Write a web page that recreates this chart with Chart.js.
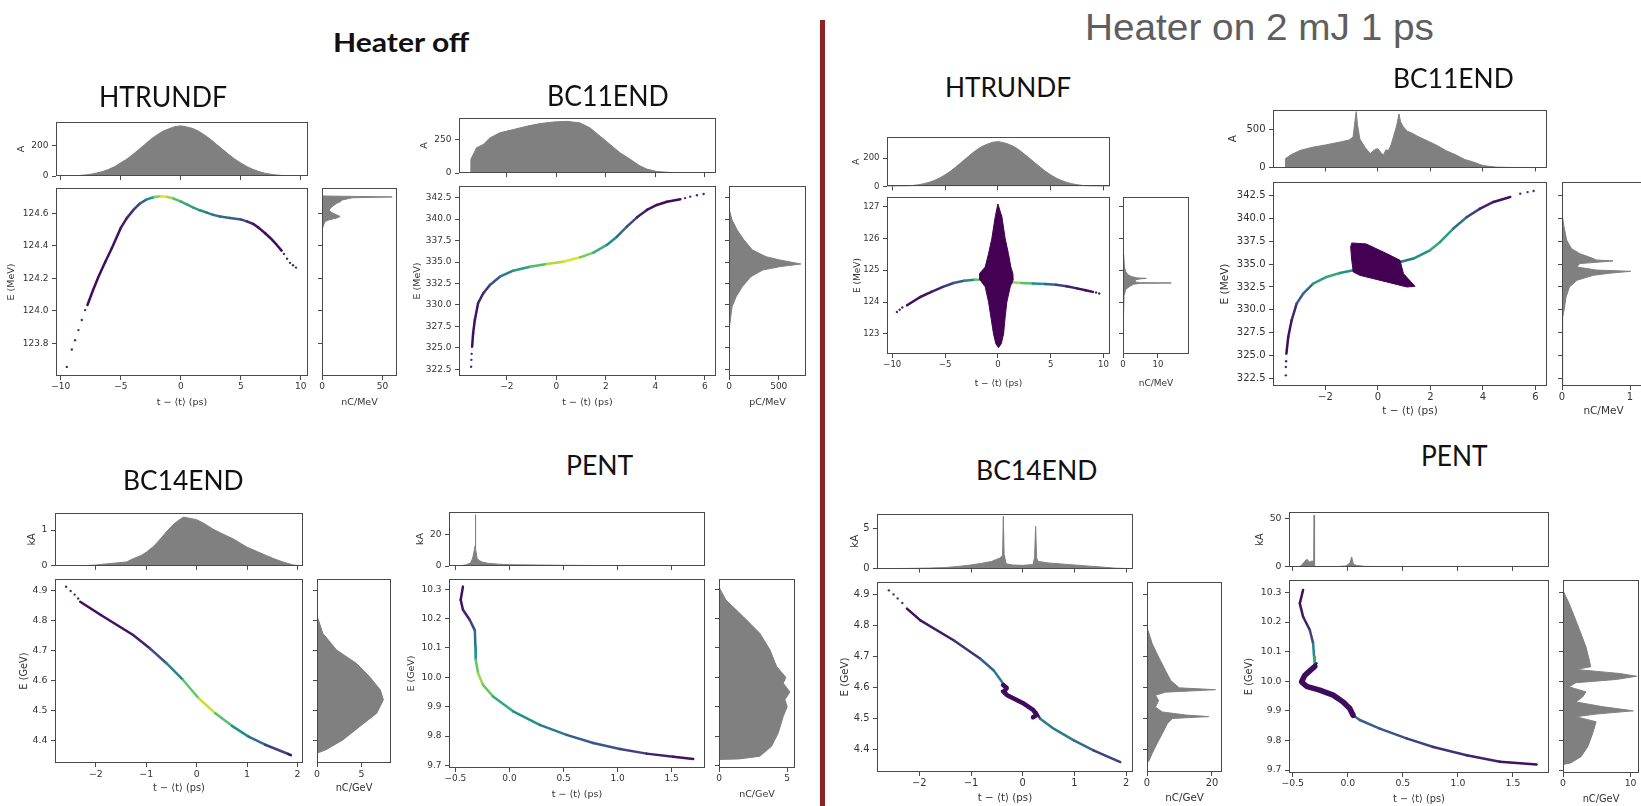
<!DOCTYPE html>
<html><head><meta charset="utf-8"><title>Heater off / Heater on 2 mJ 1 ps</title>
<script src="https://cdn.jsdelivr.net/npm/chart.js@4.4.1/dist/chart.umd.min.js"></script>
<style>
html,body{margin:0;padding:0;background:#fff;width:1641px;height:806px;overflow:hidden;position:relative;}
canvas{position:absolute;}
.lbl{position:absolute;white-space:nowrap;transform-origin:0 0;}
#divider{position:absolute;left:820px;top:20px;width:5px;height:786px;background:#8c2327;}
</style></head><body>
<div id="divider"></div>
<script>
// ================= DATA =================
// ---- tick values ----
const XT_HT = [-10,-5,0,5,10];
const XT_BC11 = [-2,0,2,4,6];
const XT_BC14 = [-2,-1,0,1,2];
const XT_PENT = [-0.5,0,0.5,1,1.5];
const YT_A = [123.8,124.0,124.2,124.4,124.6];
const YT_BC11 = [322.5,325,327.5,330,332.5,335,337.5,340,342.5];
const YT_C = [123,124,125,126,127];
const YT_BC14 = [4.4,4.5,4.6,4.7,4.8,4.9];
const YT_PENT = [9.7,9.8,9.9,10.0,10.1,10.2,10.3];

// ---- A: HTRUNDF, heater off ----
const A_t = [-7.78,-7.3,-6.86,-6.3,-5.75,-5.0,-4.5,-3.95,-3.4,-2.84,-2.2,-1.7,-1.1,-0.6,0,0.5,1.05,1.6,2.16,2.7,3.27,4.1,5.0,5.5,6.05,6.5,7.03,7.5,8.0,8.4];
const A_E = [124.036,124.13,124.21,124.30,124.385,124.51,124.57,124.62,124.66,124.685,124.70,124.705,124.70,124.69,124.672,124.655,124.635,124.618,124.604,124.59,124.58,124.571,124.562,124.55,124.534,124.51,124.477,124.445,124.405,124.37];
const A_dens = [0.03,0.03,0.03,0.04,0.05,0.08,0.12,0.18,0.3,0.5,0.8,0.95,0.85,0.72,0.62,0.58,0.55,0.48,0.42,0.38,0.33,0.3,0.22,0.12,0.06,0.04,0.03,0.03,0.03,0.03];
const A_tailT = [-9.5,-9.08,-8.81,-8.53,-8.25,-7.97,8.6,8.85,9.1,9.35,9.6];
const A_tailE = [123.656,123.763,123.82,123.882,123.944,124.005,124.35,124.32,124.295,124.28,124.266];
const A_topT = [-10.4,-10,-9.5,-9,-8.5,-8,-7.5,-7,-6.5,-6,-5.5,-5,-4.5,-4,-3.5,-3,-2.5,-2,-1.5,-1,-0.5,0,0.5,1,1.5,2,2.5,3,3.5,4,4.5,5,5.5,6,6.5,7,7.5,8,8.5,9,9.5,10,10.6];
const A_topI = [0,0.5,1,2,4,7,12,20,30,44,62,86,110,140,172,205,238,266,290,306,320,325,318,308,290,265,236,204,172,140,110,85,62,44,30,19,12,7,4,2,1,0.5,0];
const A_rE = [123.6,124.48,124.50,124.52,124.54,124.55,124.56,124.57,124.58,124.59,124.60,124.61,124.62,124.63,124.645,124.66,124.67,124.682,124.695,124.70,124.703,124.706,124.755];
const A_rQ = [0,0,0.3,1,2,3,6,12,15,12,9,7,6,7,9,12,15,17,25,58,30,0,0];

// ---- B: BC11END, heater off ----
const B_t = [-3.40,-3.36,-3.29,-3.16,-2.95,-2.68,-2.28,-1.74,-1.06,-0.39,0.28,0.96,1.5,2.04,2.45,2.85,3.26,3.66,4.06,4.47,5.01];
const B_E = [325.13,326.7,328.25,330.2,331.36,332.33,333.29,333.99,334.46,334.77,335.04,335.55,336.09,336.99,337.95,339.12,340.21,341.07,341.65,342.03,342.31];
const B_dens = [0.03,0.04,0.06,0.1,0.15,0.25,0.4,0.55,0.7,0.88,0.95,0.78,0.62,0.48,0.35,0.22,0.1,0.05,0.04,0.03,0.03];
const B_tailT = [-3.44,-3.43,-3.42,5.2,5.41,5.68,5.95];
const B_tailE = [322.8,323.6,324.3,342.45,342.62,342.78,342.93];
const B_topT = [-3.93,-3.46,-3.45,-3.22,-2.95,-2.68,-2.28,-1.74,-1.2,-0.66,-0.12,0.42,0.96,1.36,1.77,2.17,2.57,2.98,3.38,3.66,4.06,4.6,5.5,6.45];
const B_topI = [0,0,104,190,215,264,302,326,351,371,383,388,376,339,277,215,153,104,54,30,12,5,1,0];
const B_rE = [321.72,322.9,324.75,327.47,329.8,330.96,332.13,333.29,334.07,334.46,334.77,335.24,335.62,336.4,337.57,338.74,339.9,341.07,341.6,343.86];
const B_rQ = [0,1,4,7,31,72,134,219,339,510,723,510,373,236,151,82,31,4,0,0];

// ---- C: HTRUNDF, heater on ----
const C_t = [-8.6,-7.35,-6.3,-5.2,-4.2,-3.2,-2.2,-1.4,0,1.4,2.2,3.3,4.5,5.5,6.5,7.5,8.3,9.0];
const C_E = [123.9,124.16,124.32,124.48,124.6,124.67,124.7,124.71,124.68,124.62,124.6,124.58,124.565,124.545,124.5,124.43,124.37,124.32];
const C_dens = [0.03,0.05,0.1,0.18,0.28,0.45,0.75,0.9,0.5,0.85,0.72,0.5,0.32,0.2,0.1,0.05,0.03,0.03];
const C_tailT = [-9.56,-9.3,-9.05,9.3,9.6];
const C_tailE = [123.69,123.76,123.83,124.3,124.27];
const C_blobT = [0.0,0.38,0.69,1.0,1.23,1.42,1.45,1.17,0.85,0.69,0.54,0.32,0.06,-0.19,-0.41,-0.66,-0.88,-1.2,-1.7,-1.73,-1.2,-0.88,-0.57,-0.25,0.0];
const C_blobE = [127.08,126.68,126.0,125.52,125.1,124.9,124.7,124.48,124.0,123.53,123.0,122.69,122.57,122.69,123.0,123.53,124.0,124.48,124.7,124.9,125.1,125.52,126.0,126.68,127.08];
const C_topT = [-10.5,-10,-9.5,-9,-8.5,-8,-7.5,-7,-6.5,-6,-5.5,-5,-4.5,-4,-3.5,-3,-2.5,-2,-1.5,-1,-0.5,0,0.5,1,1.5,2,2.5,3,3.5,4,4.5,5,5.5,6,6.5,7,7.5,8,8.5,9,9.5,10,10.62];
const C_topI = [0,0.5,1,2,4,7,12,19,29,43,60,82,107,137,168,200,232,260,284,300,314,318,312,300,284,260,230,200,168,137,107,82,60,43,29,19,12,7,4,2,1,0.5,0];
const C_rE = [122.37,122.6,123.5,124.2,124.4,124.5,124.56,124.59,124.6,124.61,124.63,124.7,124.73,124.745,124.76,124.8,124.85,124.95,125.1,125.5,126.5,127.1,127.3];
const C_rQ = [0,0.1,0.15,0.3,0.8,2,3,5,13.8,5,3.5,3.5,5,6.7,4,2.5,1.5,0.8,0.4,0.2,0.1,0,0];

// ---- D: BC11END, heater on ----
const D_t = [-3.49,-3.42,-3.29,-3.1,-2.85,-2.47,-1.96,-1.45,-0.94,0.84,1.35,1.98,2.37,2.87,3.39,3.89,4.4,5.04];
const D_E = [325.23,327.04,328.86,330.68,331.77,332.87,333.59,334.03,334.32,335.23,335.6,336.5,337.41,338.87,340.13,341.05,341.77,342.32];
const D_dens = [0.03,0.05,0.12,0.25,0.35,0.55,0.6,0.5,0.35,0.4,0.5,0.6,0.55,0.38,0.2,0.1,0.05,0.03];
const D_tailT = [-3.51,-3.51,-3.5,5.42,5.7,5.93];
const D_tailE = [322.86,323.77,324.4,342.68,342.85,342.97];
const D_blobT = [-1.0,-0.45,0.33,0.84,0.97,1.41,1.1,0.33,-0.69,-0.94,-1.0,-1.04,-1.0];
const D_blobE = [337.3,337.2,336.14,335.41,333.96,332.57,332.5,333.05,333.77,334.13,335.41,336.86,337.3];
const D_topT = [-4,-3.53,-3.52,-3.3,-2.97,-2.5,-2,-1.5,-1.1,-0.95,-0.88,-0.83,-0.78,-0.69,-0.5,-0.3,-0.1,0,0.1,0.2,0.3,0.4,0.5,0.6,0.72,0.8,0.86,0.95,1.1,1.3,1.48,1.75,2,2.3,2.6,3,3.3,3.6,4,4.5,5,6.44];
const D_topI = [0,0,118,170,224,265,296,330,360,400,600,733,560,373,267,182,240,245,200,160,230,224,300,415,560,703,600,542,478,450,415,370,331,280,220,160,105,76,25,5,1,0];
const D_rE = [321.7,329.2,329.95,331.41,332.5,333.23,333.77,334.0,334.21,334.35,334.68,335.05,335.34,335.45,335.6,336.14,336.68,337.59,339.04,340.5,343.95];
const D_rQ = [0,0.01,0.03,0.06,0.11,0.22,0.46,0.7,1.01,0.5,0.22,0.26,0.75,0.5,0.46,0.26,0.14,0.07,0.03,0,0];

// ---- E: BC14END, heater off ----
const E_t = [-2.31,-1.9,-1.26,-0.93,-0.6,-0.27,0.04,0.37,0.7,1.03,1.36,1.82,1.87];
const E_E = [4.864,4.82,4.753,4.709,4.659,4.603,4.542,4.492,4.45,4.414,4.387,4.356,4.352];
const E_dens = [0.03,0.05,0.1,0.25,0.45,0.75,0.92,0.72,0.5,0.35,0.2,0.05,0.03];
const E_tailT = [-2.59,-2.5,-2.42,-2.35];
const E_tailE = [4.914,4.9,4.888,4.875];
const E_topT = [-2.81,-2.4,-2.2,-2.03,-1.9,-1.6,-1.39,-1.26,-1.1,-1,-0.85,-0.72,-0.6,-0.46,-0.35,-0.26,-0.15,0,0.15,0.33,0.5,0.73,1,1.2,1.38,1.55,1.71,1.9,2.0,2.11];
const E_topI = [0,0.005,0.01,0.02,0.04,0.08,0.11,0.2,0.29,0.38,0.55,0.75,0.95,1.16,1.28,1.36,1.33,1.29,1.18,1.02,0.9,0.75,0.52,0.4,0.29,0.19,0.11,0.03,0.01,0];
const E_rE = [4.326,4.355,4.359,4.37,4.403,4.448,4.492,4.537,4.57,4.614,4.659,4.703,4.759,4.809,4.82,4.94];
const E_rQ = [0,0,0.05,1.0,2.9,4.8,6.7,7.45,7.1,5.9,4.4,2.2,0.65,0.1,0,0];

// ---- F: PENT, heater off ----
const F_t = [-0.43,-0.451,-0.43,-0.368,-0.32,-0.315,-0.312,-0.29,-0.244,-0.152,0.034,0.28,0.528,0.774,1.021,1.268,1.515,1.7];
const F_E = [10.309,10.264,10.23,10.196,10.16,10.105,10.06,10.014,9.974,9.935,9.884,9.838,9.804,9.776,9.756,9.74,9.729,9.722];
const F_dens = [0.03,0.05,0.1,0.2,0.35,0.5,0.75,0.85,0.75,0.6,0.5,0.4,0.3,0.25,0.2,0.1,0.05,0.03];
const F_topT = [-0.559,-0.47,-0.45,-0.4,-0.36,-0.34,-0.325,-0.318,-0.315,-0.312,-0.3,-0.28,-0.25,-0.2,-0.1,0,0.25,0.5,1,1.5,1.7,1.75,1.808];
const F_topI = [0,0,0.3,0.8,2,5,10,12.6,32.5,11,5,3.5,2.5,1.8,1.2,0.9,0.7,0.5,0.3,0.2,0.1,0,0];
const F_rE = [9.691,9.72,9.722,9.731,9.765,9.81,9.867,9.9,9.924,9.95,9.98,10.0,10.037,10.094,10.15,10.207,10.264,10.303,10.31,10.335];
const F_rQ = [0,0,1.5,2.99,3.85,4.34,4.71,5.0,4.83,5.2,4.71,4.9,4.22,3.73,2.99,1.77,0.5,0.05,0,0];

// ---- G: BC14END, heater on ----
const G_t = [-2.24,-1.98,-1.33,-0.82,-0.56,-0.4,-0.33,-0.3,-0.4,-0.36,0,0.26,0.34,0.6,0.99,1.37,1.89];
const G_E = [4.854,4.816,4.751,4.692,4.654,4.617,4.603,4.595,4.587,4.579,4.547,4.52,4.498,4.466,4.428,4.396,4.358];
const G_dens = [0.03,0.08,0.15,0.3,0.42,0.42,0.1,0.05,0.02,0.02,0.02,0.1,0.42,0.42,0.35,0.2,0.05];
const G_tailT = [-2.59,-2.5,-2.42,-2.33];
const G_tailE = [4.913,4.9,4.887,4.872];
const G_thickT = [-0.38,-0.31,-0.36,-0.3,0,0.2,0.27,0.2];
const G_thickE = [4.607,4.598,4.585,4.574,4.549,4.527,4.51,4.503];
const G_topT = [-2.82,-2.4,-2.2,-1.8,-1.5,-1.2,-1,-0.8,-0.6,-0.45,-0.39,-0.375,-0.36,-0.32,-0.2,0,0.2,0.23,0.25,0.27,0.3,0.5,0.8,1,1.3,1.6,1.8,2,2.135];
const G_topI = [0,0.01,0.02,0.06,0.12,0.3,0.45,0.65,0.9,1.3,1.6,6.55,1.8,0.6,0.45,0.4,0.5,1.4,5.3,1.3,0.9,0.7,0.55,0.45,0.3,0.15,0.05,0.01,0];
const G_rE = [4.326,4.355,4.36,4.386,4.418,4.45,4.483,4.499,4.505,4.51,4.52,4.536,4.557,4.574,4.584,4.592,4.598,4.622,4.654,4.697,4.741,4.784,4.8,4.94];
const G_rQ = [0,0,0.5,1.6,3.1,4.7,6.3,7.8,19,12,4.7,2.6,3.6,2.6,5.7,21.1,9.9,7.3,5.7,3.6,1.6,0.3,0,0];

// ---- H: PENT, heater on ----
const H_t = [-0.406,-0.436,-0.406,-0.345,-0.315,-0.306,-0.3,-0.285,-0.345,-0.39,-0.42,-0.375,-0.255,-0.133,-0.042,0.018,0.048,0.109,0.29,0.533,0.776,1.079,1.382,1.715];
const H_E = [10.308,10.263,10.218,10.173,10.128,10.082,10.054,10.06,10.037,10.02,9.998,9.983,9.97,9.953,9.93,9.908,9.885,9.869,9.84,9.807,9.778,9.75,9.728,9.719];
const H_dens = [0.03,0.05,0.1,0.2,0.45,0.6,0.4,0.1,0.3,0.25,0.02,0.02,0.02,0.02,0.02,0.1,0.35,0.3,0.25,0.2,0.15,0.1,0.05,0.03];
const H_thickT = [-0.3,-0.345,-0.39,-0.42,-0.375,-0.255,-0.133,-0.042,0.018,0.048];
const H_thickE = [10.05,10.035,10.02,9.998,9.983,9.97,9.953,9.93,9.908,9.885];
const H_topT = [-0.534,-0.45,-0.43,-0.41,-0.39,-0.37,-0.35,-0.33,-0.31,-0.306,-0.302,-0.2,-0.1,-0.02,0,0.02,0.035,0.05,0.08,0.15,0.3,0.5,0.8,1.2,1.7,1.827];
const H_topI = [0,0,1,3,6,8,5,6,6,54,0.5,0.3,0.3,1,2.5,4,10.5,3,1.5,0.6,0.4,0.3,0.2,0.1,0.05,0];
const H_rE = [9.69,9.719,9.724,9.745,9.778,9.824,9.863,9.88,9.889,9.9,9.914,9.93,9.947,9.964,9.981,9.995,10.006,10.017,10.026,10.04,10.049,10.071,10.116,10.161,10.206,10.263,10.302,10.31,10.342];
const H_rQ = [0,0,1.15,2.65,3.65,4.4,4.9,1.9,4.9,10.4,5.9,1.9,2.9,3.4,0.9,1.9,7.9,10.9,8.4,1.9,4.1,3.9,3.4,2.65,1.9,0.9,0.1,0,0];

// ================= LAYOUT (positions / styles) =================
const XTITLE = 't \u2212 \u27e8t\u27e9 (ps)';
const PANELS = [
 {main:[56,188,308,376], top:[122,177], right:[322,397], fs:9, ts:9.5, yTitleX:11.7, topTitleX:21.7, xOff:26.7,
  xr:[-10.4,10.6], xt:XT_HT, xd:0, yr:[123.6,124.755], yt:YT_A, yd:1, yTitle:'E (MeV)',
  topMax:350, topTicks:[0,200], topTitle:'A', rMax:62, rTicks:[0,50], rTitle:'nC/MeV',
  curve:[A_t,A_E,A_dens], tail:[A_tailT,A_tailE], topH:[A_topT,A_topI], rightH:[A_rE,A_rQ]},
 {main:[459,186,716,376], top:[118,174], right:[729,806], fs:9, ts:9.5, yTitleX:417.7, topTitleX:424.3, xOff:26.7,
  xr:[-3.93,6.45], xt:XT_BC11, xd:0, yr:[321.72,343.86], yt:YT_BC11, yd:1, yTitle:'E (MeV)',
  topMax:413, topTicks:[0,250], topTitle:'A', rMax:774, rTicks:[0,500], rTitle:'pC/MeV',
  curve:[B_t,B_E,B_dens], tail:[B_tailT,B_tailE], topH:[B_topT,B_topI], rightH:[B_rE,B_rQ]},
 {main:[887,197,1110,354], top:[137,187], right:[1123,1189], fs:8.5, ts:9, yTitleX:857.3, topTitleX:856, xOff:29.4,
  xr:[-10.5,10.62], xt:XT_HT, xd:0, yr:[122.37,127.3], yt:YT_C, yd:0, yTitle:'E (MeV)',
  topMax:351, topTicks:[0,200], topTitle:'A', rMax:18.9, rTicks:[0,10], rTitle:'nC/MeV',
  curve:[C_t,C_E,C_dens], tail:[C_tailT,C_tailE], blob:[C_blobT,C_blobE], topH:[C_topT,C_topI], rightH:[C_rE,C_rQ]},
 {main:[1273,182,1547,386], top:[110,169], right:[1562,1645], fs:10, ts:10.5, yTitleX:1225, topTitleX:1233.3, xOff:26,
  xr:[-4.0,6.44], xt:XT_BC11, xd:0, yr:[321.7,343.95], yt:YT_BC11, yd:1, yTitle:'E (MeV)',
  topMax:754, topTicks:[0,500], topTitle:'A', rMax:1.22, rTicks:[0,1], rTitle:'nC/MeV',
  curve:[D_t,D_E,D_dens], tail:[D_tailT,D_tailE], blob:[D_blobT,D_blobE], topH:[D_topT,D_topI], rightH:[D_rE,D_rQ]},
 {main:[55,579,303,763], top:[513,567], right:[317,391], fs:9.4, ts:9.8, yTitleX:25, topTitleX:33.3, xOff:25,
  xr:[-2.81,2.11], xt:XT_BC14, xd:0, yr:[4.326,4.94], yt:YT_BC14, yd:1, yTitle:'E (GeV)',
  topMax:1.475, topTicks:[0,1], topTitle:'kA', rMax:8.3, rTicks:[0,5], rTitle:'nC/GeV',
  curve:[E_t,E_E,E_dens], tail:[E_tailT,E_tailE], topH:[E_topT,E_topI], rightH:[E_rE,E_rQ]},
 {main:[449,579,705,768], top:[512,567], right:[719,795], fs:9, ts:9.5, yTitleX:411.7, topTitleX:421, xOff:26.7,
  xr:[-0.559,1.808], xt:XT_PENT, xd:1, yr:[9.691,10.335], yt:YT_PENT, yd:1, yTitle:'E (GeV)',
  topMax:34.1, topTicks:[0,20], topTitle:'kA', rMax:5.57, rTicks:[0,5], rTitle:'nC/GeV',
  curve:[F_t,F_E,F_dens], tail:[[],[]], topH:[F_topT,F_topI], rightH:[F_rE,F_rQ]},
 {main:[877,582,1133,772], top:[514,570], right:[1147,1222], fs:9.9, ts:10.3, yTitleX:845, topTitleX:855, xOff:26.7,
  xr:[-2.82,2.135], xt:XT_BC14, xd:0, yr:[4.326,4.94], yt:YT_BC14, yd:1, yTitle:'E (GeV)',
  topMax:6.84, topTicks:[0,5], topTitle:'kA', rMax:23.1, rTicks:[0,20], rTitle:'nC/GeV',
  curve:[G_t,G_E,G_dens], tail:[G_tailT,G_tailE], thick:[G_thickT,G_thickE], thickW:4.5, topH:[G_topT,G_topI], rightH:[G_rE,G_rQ]},
 {main:[1289,580,1549,773], top:[512,568], right:[1563,1639], fs:9.3, ts:9.8, yTitleX:1250, topTitleX:1261, xOff:26,
  xr:[-0.534,1.827], xt:XT_PENT, xd:1, yr:[9.69,10.342], yt:YT_PENT, yd:1, yTitle:'E (GeV)',
  topMax:57.3, topTicks:[0,50], topTitle:'kA', rMax:11.25, rTicks:[0,10], rTitle:'nC/GeV',
  curve:[H_t,H_E,H_dens], tail:[[],[]], thick:[H_thickT,H_thickE], thickW:5.5, topH:[H_topT,H_topI], rightH:[H_rE,H_rQ]}
];

const TITLES = [
 {text:'Heater off', cx:401.5, cy:41.7, w:137, cap:20, family:'Lato', weight:700, color:'#111'},
 {text:'Heater on 2 mJ 1 ps', cx:1259.5, cy:27.5, w:349, cap:25.7, family:'"Liberation Sans"', weight:400, color:'#5e5e5e'},
 {text:'HTRUNDF', cx:162.5, cy:96.3, w:128, cap:20.5, family:'Lato', weight:400, color:'#111'},
 {text:'BC11END', cx:607.5, cy:96, w:121.7, cap:20.5, family:'Lato', weight:400, color:'#111'},
 {text:'HTRUNDF', cx:1007.5, cy:87.5, w:126, cap:20, family:'Lato', weight:400, color:'#111'},
 {text:'BC11END', cx:1453, cy:78, w:120.7, cap:20, family:'Lato', weight:400, color:'#111'},
 {text:'BC14END', cx:183, cy:480.5, w:120.6, cap:20, family:'Lato', weight:400, color:'#111'},
 {text:'PENT', cx:599.7, cy:465, w:67.3, cap:20, family:'Lato', weight:400, color:'#111'},
 {text:'BC14END', cx:1036.7, cy:469.7, w:121.3, cap:20, family:'Lato', weight:400, color:'#111'},
 {text:'PENT', cx:1454, cy:455.5, w:66.6, cap:20.5, family:'Lato', weight:400, color:'#111'}
];

// ================= HELPERS =================
const VIR = [[68,1,84],[59,82,139],[33,145,140],[94,201,98],[253,231,37]];
function viridis(v){
  v = Math.max(0, Math.min(1, v));
  const s = v*4, i = Math.min(3, Math.floor(s)), f = s - i, a = VIR[i], b = VIR[i+1];
  return 'rgb(' + a.map((c,k)=>Math.round(c + (b[k]-c)*f)).join(',') + ')';
}
function pts(xs, ys){ return xs.map((v,i)=>({x:v, y:ys[i]})); }
function fmt(v, dec){ return (v < -1e-9 ? '\u2212' : '') + Math.abs(v).toFixed(dec); }
const FRAME = {id:'frame', afterDraw(chart){
  const a = chart.chartArea, c = chart.ctx;
  const l = Math.round(a.left), t = Math.round(a.top), r = Math.round(a.right), b = Math.round(a.bottom);
  c.save(); c.strokeStyle = '#4a4a4a'; c.lineWidth = 1;
  c.strokeRect(l+0.5, t+0.5, r-l-1, b-t-1); c.restore();
}};
function axisOpts(o, horiz, size, fs, ts){
  return {
    type:'linear', position: horiz ? 'bottom' : 'left', min:o.min, max:o.max, bounds:'data',
    afterBuildTicks: s => { s.ticks = o.ticks.map(v => ({value:v})); },
    afterFit: s => { if (horiz) s.height = size; else s.width = size; },
    grid:{drawOnChartArea:false, drawTicks:true, tickLength:4, color:'#4a4a4a', lineWidth:1},
    border:{display:false},
    ticks:{display:!!o.labels, autoSkip:false, maxRotation:0, minRotation:0, padding: horiz ? 1.5 : 3.5,
      color:'#333', font:{family:"'DejaVu Sans'", size:fs}, callback: v => fmt(v, o.dec || 0)},
    title:{display:!!o.title, text:o.title || '', color:'#333', font:{family:"'DejaVu Sans'", size:ts}, padding:0}
  };
}
function makeChart(c){
  const [L,T,R,B] = c.box;
  const padT = c.padT, padR = c.padR, padB = c.padB || 0;
  const left = Math.round(L - c.yW), top = Math.round(T - padT);
  const yW = L - left, pT = T - top;
  const W = Math.round(R - left + padR), H = Math.round(B - top + c.xH + padB);
  const cv = document.createElement('canvas');
  cv.width = W; cv.height = H;
  cv.style.left = left + 'px'; cv.style.top = top + 'px'; cv.style.width = W + 'px'; cv.style.height = H + 'px';
  document.body.appendChild(cv);
  const xH = H - padB - (B - top);
  new Chart(cv, {
    type: c.type, data: {datasets: c.datasets},
    options: {
      responsive:false, animation:false, events:[], indexAxis: c.indexAxis || 'x',
      layout:{padding:{left:0, top:pT, right:W - (R - left), bottom:padB}},
      plugins:{legend:{display:false}, tooltip:{enabled:false}},
      scales:{ x: axisOpts(c.x, true, xH, c.fs, c.ts), y: axisOpts(c.y, false, yW, c.fs, c.ts) }
    },
    plugins:[FRAME]
  });
}

// ================= BUILD =================
const GRAY = '#808080';
for (const p of PANELS){
  const [L,T,R,B] = p.main;
  const lhT = p.ts * 1.2;
  const ds = [];
  if (p.blob) ds.push({data: pts(p.blob[0], p.blob[1]), showLine:true, fill:'shape', backgroundColor:'#440154', borderColor:'#440154', borderWidth:1, pointRadius:0, order:0});
  if (p.thick) ds.push({data: pts(p.thick[0], p.thick[1]), showLine:true, borderColor:'#3f0b5e', borderWidth:p.thickW, borderCapStyle:'round', borderJoinStyle:'round', pointRadius:0, order:1});
  const dens = p.curve[2];
  ds.push({data: pts(p.curve[0], p.curve[1]), showLine:true, borderWidth:2.5, pointRadius:0, borderColor:'#440154',
    borderCapStyle:'round', borderJoinStyle:'round',
    segment:{borderColor: ctx => viridis(dens[ctx.p0DataIndex])}, order:2});
  ds.push({data: pts(p.tail[0], p.tail[1]), showLine:false, pointRadius:1.2, pointBackgroundColor:'#4a2a78', pointBorderColor:'#4a2a78', pointBorderWidth:0, order:3});
  makeChart({type:'scatter', box:p.main, yW: L - p.yTitleX + lhT/2, xH: p.xOff + lhT/2, padT:10, padR:14,
    fs:p.fs, ts:p.ts, datasets: ds,
    x:{min:p.xr[0], max:p.xr[1], ticks:p.xt, dec:p.xd, labels:true, title:XTITLE},
    y:{min:p.yr[0], max:p.yr[1], ticks:p.yt, dec:p.yd, labels:true, title:p.yTitle}});
  makeChart({type:'line', box:[L, p.top[0], R, p.top[1]], yW: L - p.topTitleX + lhT/2, xH:5, padT:10, padR:14, padB:3,
    fs:p.fs, ts:p.ts,
    datasets:[{data: pts(p.topH[0], p.topH[1]), fill:'origin', backgroundColor:GRAY, borderColor:GRAY, borderWidth:1, pointRadius:0}],
    x:{min:p.xr[0], max:p.xr[1], ticks:p.xt, dec:p.xd, labels:false},
    y:{min:0, max:p.topMax, ticks:p.topTicks, dec:0, labels:true, title:p.topTitle}});
  makeChart({type:'line', indexAxis:'y', box:[p.right[0], T, p.right[1], B], yW:6, xH: p.xOff + lhT/2, padT:10, padR:14,
    fs:p.fs, ts:p.ts,
    datasets:[{data: pts(p.rightH[1], p.rightH[0]), fill:'origin', backgroundColor:GRAY, borderColor:GRAY, borderWidth:1, pointRadius:0}],
    x:{min:0, max:p.rMax, ticks:p.rTicks, dec:0, labels:true, title:p.rTitle},
    y:{min:p.yr[0], max:p.yr[1], ticks:p.yt, dec:p.yd, labels:false}});
}

// ================= TEXT TITLES =================
const mc = document.createElement('canvas').getContext('2d');
for (const t of TITLES){
  mc.font = t.weight + ' 100px ' + t.family;
  const capR = mc.measureText('H').actualBoundingBoxAscent / 100;
  const size = t.cap / capR;
  mc.font = t.weight + ' ' + size + 'px ' + t.family;
  const m = mc.measureText(t.text);
  const sx = t.w / m.width;
  const asc = m.fontBoundingBoxAscent, desc = m.fontBoundingBoxDescent;
  const baseline = t.cy + t.cap/2;
  const top = baseline - ((size - (asc + desc))/2 + asc);
  const d = document.createElement('div');
  d.className = 'lbl'; d.textContent = t.text;
  d.style.left = (t.cx - t.w/2) + 'px'; d.style.top = top + 'px';
  d.style.fontFamily = t.family; d.style.fontWeight = t.weight; d.style.fontSize = size + 'px';
  d.style.lineHeight = size + 'px'; d.style.color = t.color;
  d.style.transform = 'scaleX(' + sx + ')';
  document.body.appendChild(d);
}
</script>
</body></html>
